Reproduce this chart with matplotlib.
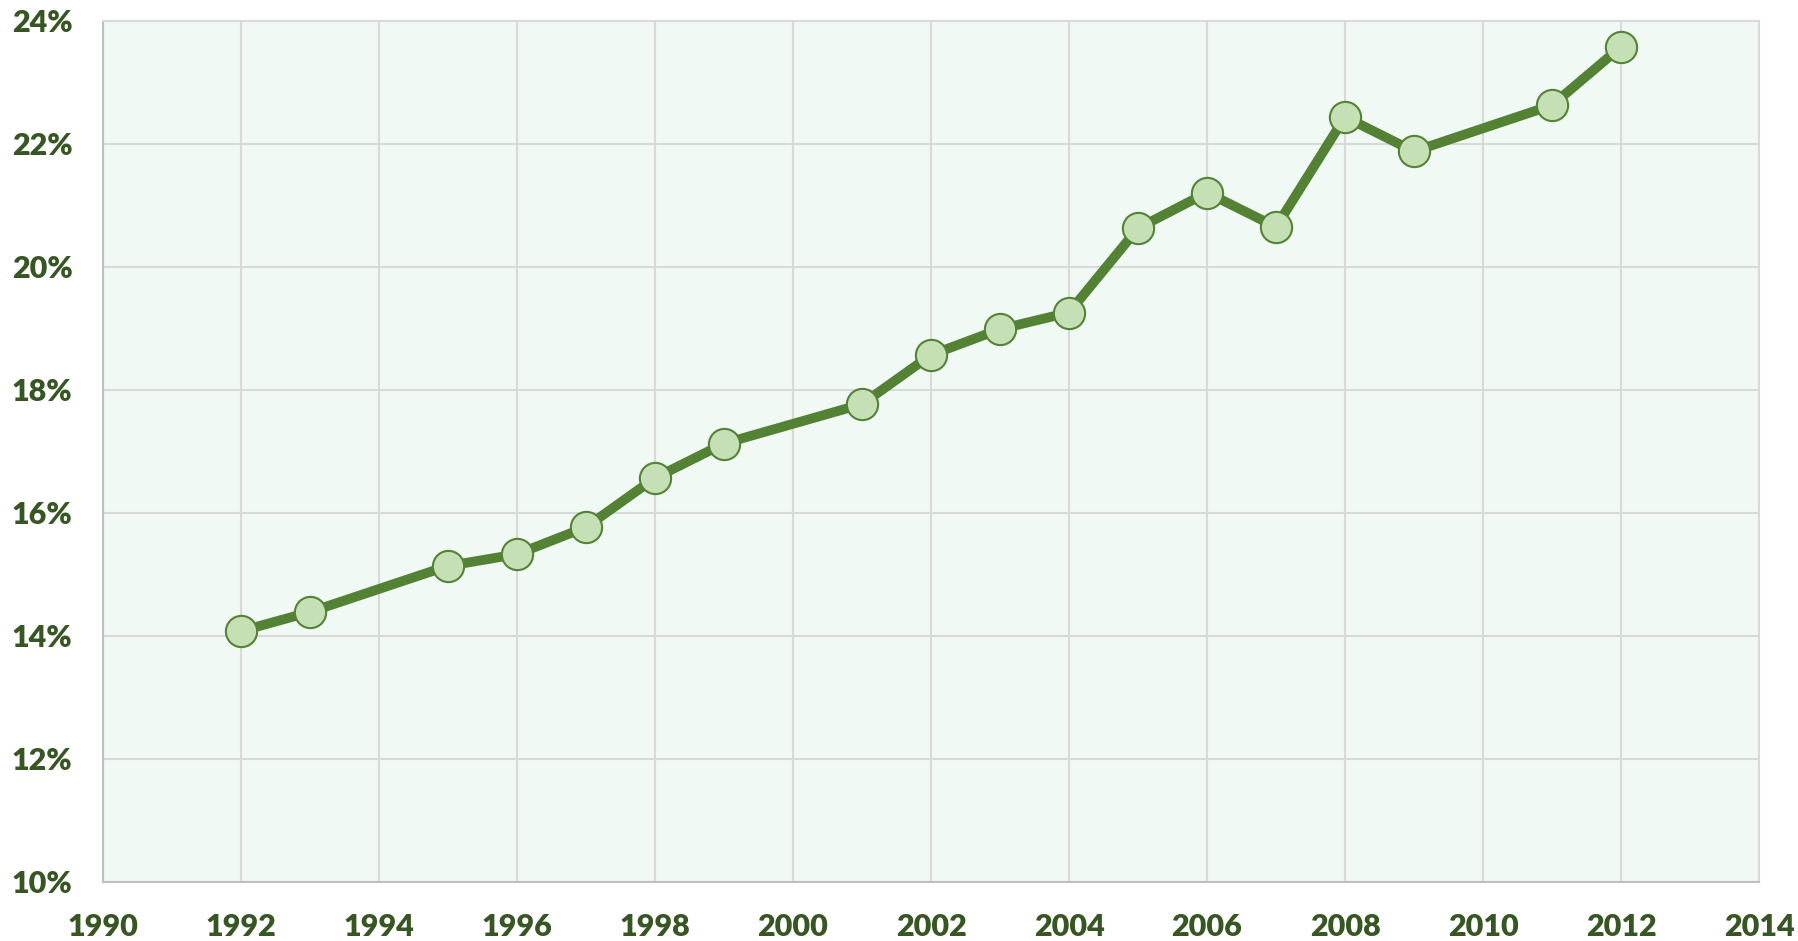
import matplotlib
matplotlib.use("Agg")
import matplotlib.pyplot as plt
from matplotlib.ticker import FuncFormatter

years = [1992, 1993, 1995, 1996, 1997, 1998, 1999, 2001, 2002, 2003, 2004,
         2005, 2006, 2007, 2008, 2009, 2011, 2012]
values = [14.08, 14.39, 15.14, 15.33, 15.77, 16.57, 17.13, 17.77, 18.57, 18.99, 19.26,
          20.63, 21.21, 20.65, 22.44, 21.88, 22.63, 23.58]
x_ticks = list(range(1990, 2015, 2))
y_ticks = list(range(10, 25, 2))

plt.rcParams['font.family'] = ['Lato', 'DejaVu Sans']

fig = plt.figure(figsize=(17.98, 9.41), dpi=100)
ax = fig.add_axes([103/1798, 1-882/941, (1759-103)/1798, (882-21)/941])
ax.set_facecolor('#F1F9F4')

ax.plot(years, values, color='#548235', linewidth=7, marker='o', markersize=22.5,
        markerfacecolor='#C5E0B4', markeredgecolor='#548235', markeredgewidth=1.5,
        zorder=3, solid_capstyle='round')

ax.set_xlim(1990, 2014)
ax.set_ylim(10, 24)
ax.set_xticks(x_ticks)
ax.set_yticks(y_ticks)
ax.yaxis.set_major_formatter(FuncFormatter(lambda v, p: f"{int(v)}%"))
ax.grid(True, color='#D9D9D9', linewidth=1.5, zorder=0)
ax.set_axisbelow(True)
for s in ax.spines.values():
    s.set_color('#D9D9D9')
    s.set_linewidth(1.5)
ax.spines['left'].set_color('#BFBFBF')
ax.spines['bottom'].set_color('#BFBFBF')
ax.tick_params(axis='both', length=0, labelcolor='#375623', labelsize=22)
ax.tick_params(axis='y', pad=22)
ax.tick_params(axis='x', pad=22)
for lab in ax.get_xticklabels() + ax.get_yticklabels():
    lab.set_fontweight('heavy')

fig.savefig('out.png', dpi=100)
